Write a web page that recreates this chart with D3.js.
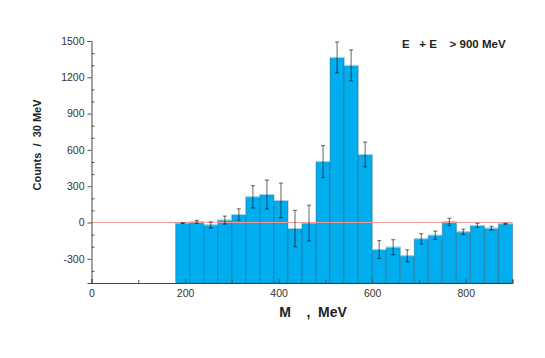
<!DOCTYPE html>
<html>
<head>
<meta charset="utf-8">
<script src="https://cdn.jsdelivr.net/npm/d3@7"></script>
<style>
  body { margin: 0; background: #fff; }
  svg { font-family: "Liberation Sans", Arial, sans-serif; }
</style>
</head>
<body>
<div id="chart"></div>
<script>
// lower edges of the 30 MeV bins
let binStart = [180, 210, 240, 270, 300, 330, 360, 390, 420, 450, 480, 510,
                540, 570, 600, 630, 660, 690, 720, 750, 780, 810, 840, 870];
let counts = [-5, 5, -20, 20, 66, 212, 231, 182, -50, -5, 504, 1364,
              1298, 562, -223, -204, -275, -135, -105, 5, -77, -25, -47, -11];
let errors = [3, 12, 25, 33, 47, 92, 120, 143, 150, 148, 132, 128,
              128, 103, 74, 62, 50, 43, 34, 30, 22, 17, 15, 4];
let binWidth = 30;
let yTicks = [-300, 0, 300, 600, 900, 1200, 1500];
let xTicks = [0, 200, 400, 600, 800];

function main() {
    let w = 545, h = 358;
    let svg = d3.select("#chart").append("svg")
        .attr("width", w)
        .attr("height", h);

    let x = d3.scaleLinear().domain([0, 900]).range([91.5, 512.5]);
    let y = d3.scaleLinear().domain([-500, 1500]).range([283, 41]);

    let data = binStart.map((b, i) => ({lo: b, hi: b + binWidth, v: counts[i], e: errors[i]}));

    // bars, filled up from the bottom of the frame
    svg.append("g").selectAll("rect")
        .data(data)
        .enter().append("rect")
        .attr("x", d => x(d.lo))
        .attr("width", d => x(d.hi) - x(d.lo))
        .attr("y", d => y(d.v))
        .attr("height", d => y(-500) - y(d.v))
        .attr("fill", "#00adef")
        .attr("stroke", "rgba(40,90,120,0.45)")
        .attr("stroke-width", 1);

    // light top edge
    svg.append("g").selectAll("line")
        .data(data)
        .enter().append("line")
        .attr("x1", d => x(d.lo)).attr("x2", d => x(d.hi))
        .attr("y1", d => y(d.v)).attr("y2", d => y(d.v))
        .attr("stroke", "#9fd8f2")
        .attr("stroke-width", 1);

    // zero line
    svg.append("line")
        .attr("x1", x(0)).attr("x2", x(900))
        .attr("y1", y(0)).attr("y2", y(0))
        .attr("stroke", "#f29a9a")
        .attr("stroke-width", 1);

    // error bars
    let eb = svg.append("g")
        .attr("stroke", "#000")
        .attr("stroke-opacity", 0.5)
        .attr("stroke-width", 1.2);
    data.forEach(d => {
        let cx = x(d.lo + binWidth / 2);
        eb.append("line")
            .attr("x1", cx).attr("x2", cx)
            .attr("y1", y(d.v - d.e)).attr("y2", y(d.v + d.e));
        [d.v - d.e, d.v + d.e].forEach(v => {
            eb.append("line")
                .attr("x1", cx - 2).attr("x2", cx + 2)
                .attr("y1", y(v)).attr("y2", y(v));
        });
    });

    // y axis
    svg.append("g")
        .attr("transform", `translate(${x(0)},0)`)
        .call(d3.axisLeft(y).tickValues(yTicks).tickSize(4).tickPadding(3)
            .tickFormat(d => String(d)));
    svg.append("g")
        .attr("transform", `translate(${x(0)},0)`)
        .call(d3.axisRight(y).tickValues(d3.range(-400, 1500, 100).filter(v => v % 300 != 0))
            .tickSize(3).tickFormat(""))
        .call(g => g.select(".domain").remove());

    // x axis
    svg.append("g")
        .attr("transform", `translate(0,${y(-500)})`)
        .call(d3.axisBottom(x).tickValues(xTicks).tickSize(-4).tickPadding(7)
            .tickFormat(d => String(d)));
    svg.append("g")
        .attr("transform", `translate(0,${y(-500)})`)
        .call(d3.axisBottom(x).tickValues([100, 300, 500, 700, 900]).tickSize(-3).tickFormat(""))
        .call(g => g.select(".domain").remove());

    svg.selectAll(".domain").attr("stroke", "#444");
    svg.selectAll(".tick line").attr("stroke", "#555");
    svg.selectAll(".tick text")
        .attr("font-size", 10.5)
        .attr("fill", "#333")
        .attr("font-family", "Liberation Sans, Arial, sans-serif");

    // titles
    svg.append("text")
        .attr("transform", "translate(41,145) rotate(-90)")
        .attr("text-anchor", "middle")
        .attr("font-size", 11)
        .attr("font-weight", "bold")
        .attr("fill", "#222")
        .style("white-space", "pre")
        .text("Counts  /  30 MeV");

    svg.append("text")
        .attr("x", 313).attr("y", 317)
        .attr("text-anchor", "middle")
        .attr("font-size", 14)
        .attr("font-weight", "bold")
        .attr("fill", "#222")
        .style("white-space", "pre")
        .text("M    ,  MeV");

    svg.append("text")
        .attr("x", 402).attr("y", 48)
        .attr("font-size", 11.5)
        .attr("font-weight", "bold")
        .attr("fill", "#222")
        .style("white-space", "pre")
        .text("E   + E    > 900 MeV");
}

main();
</script>
</body>
</html>
